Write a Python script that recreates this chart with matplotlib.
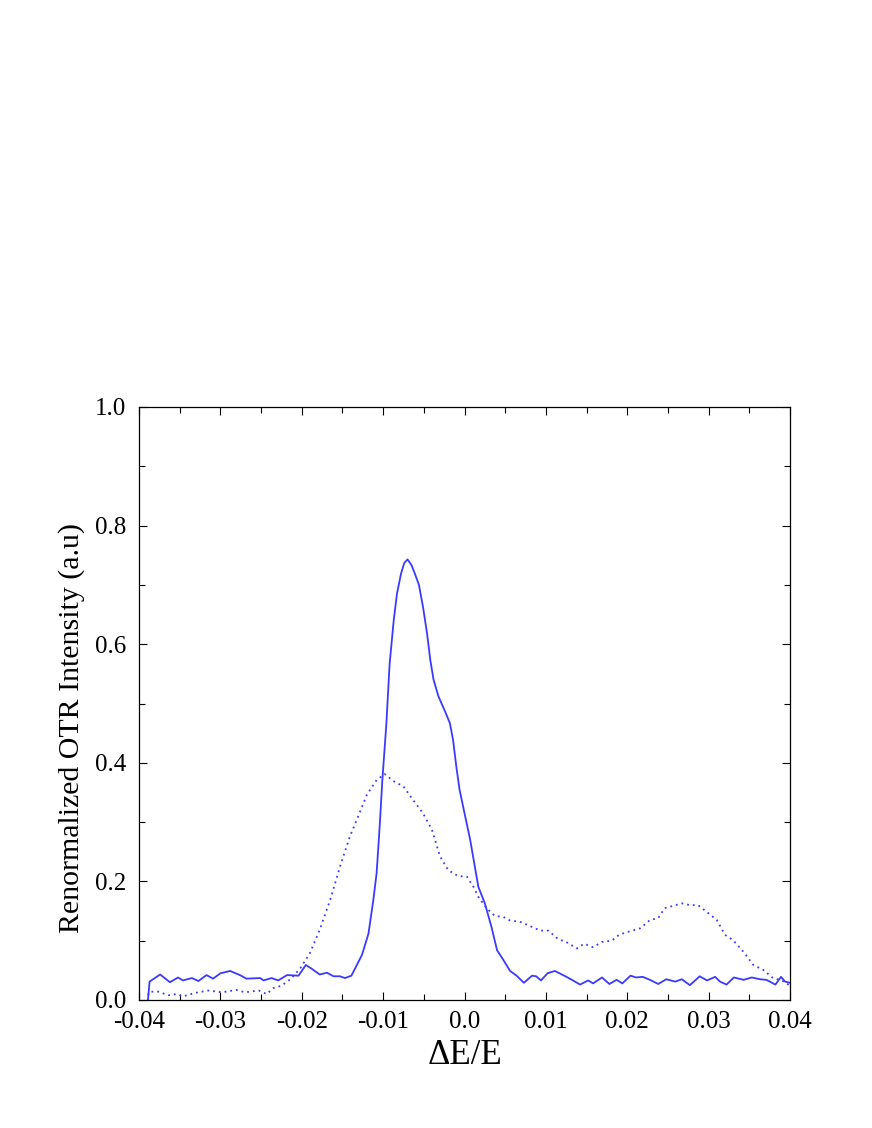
import matplotlib
matplotlib.use("Agg")
import matplotlib.pyplot as plt
from matplotlib.ticker import MultipleLocator

# solid curve
solid_x = [-0.0389, -0.0387, -0.0374, -0.0362, -0.0352, -0.0346, -0.0335, -0.0327, -0.0317,
           -0.0309, -0.0300, -0.0288, -0.0276, -0.0268, -0.0251, -0.0247, -0.0237, -0.0229,
           -0.0218, -0.0204, -0.0195, -0.0188, -0.0178, -0.0169, -0.0161, -0.0153, -0.0147,
           -0.0139, -0.0126, -0.0118, -0.0112, -0.0108, -0.0104, -0.0101, -0.0096, -0.0092,
           -0.0087, -0.0083, -0.0078, -0.0074, -0.0070, -0.0065, -0.0061, -0.0056, -0.0051,
           -0.0046, -0.0042, -0.0038, -0.0032, -0.0024, -0.0018, -0.0014, -0.0010, -0.0006,
           0.0007, 0.0017, 0.0025, 0.0033, 0.0040, 0.0048, 0.0056, 0.0064, 0.0073, 0.0083,
           0.0088, 0.0094, 0.0102, 0.0111, 0.0124, 0.0132, 0.0142, 0.0152, 0.0158, 0.0169,
           0.0178, 0.0187, 0.0194, 0.0204, 0.0211, 0.0219, 0.0228, 0.0238, 0.0248, 0.0259,
           0.0267, 0.0277, 0.0289, 0.0298, 0.0308, 0.0314, 0.0322, 0.0331, 0.0343, 0.0353,
           0.0363, 0.0371, 0.0382, 0.0389, 0.0394, 0.0400]
solid_y = [0.000, 0.031, 0.043, 0.030, 0.038, 0.033, 0.037, 0.032, 0.042,
           0.036, 0.045, 0.049, 0.042, 0.036, 0.037, 0.033, 0.037, 0.033,
           0.042, 0.041, 0.059, 0.053, 0.043, 0.046, 0.040, 0.040, 0.037,
           0.041, 0.076, 0.112, 0.169, 0.214, 0.298, 0.370, 0.466, 0.567,
           0.640, 0.685, 0.719, 0.737, 0.743, 0.733, 0.719, 0.700, 0.663,
           0.618, 0.573, 0.540, 0.512, 0.487, 0.467, 0.438, 0.393, 0.354,
           0.270, 0.191, 0.163, 0.124, 0.084, 0.067, 0.049, 0.041, 0.029, 0.041,
           0.040, 0.033, 0.045, 0.049, 0.040, 0.034, 0.026, 0.033, 0.028, 0.038,
           0.027, 0.034, 0.028, 0.041, 0.038, 0.039, 0.034, 0.027, 0.035, 0.031,
           0.035, 0.025, 0.040, 0.033, 0.039, 0.031, 0.026, 0.038, 0.034, 0.038,
           0.035, 0.034, 0.026, 0.039, 0.031, 0.029]

# dotted curve
dot_x = [-0.0389, -0.0387, -0.0376, -0.0364, -0.0354, -0.0346, -0.0331, -0.0315, -0.0298,
         -0.0280, -0.0270, -0.0253, -0.0243, -0.0235, -0.0225, -0.0214, -0.0202, -0.0190,
         -0.0178, -0.0165, -0.0153, -0.0141, -0.0130, -0.0120, -0.0108, -0.0098, -0.0087,
         -0.0075, -0.0063, -0.0051, -0.0040, -0.0030, -0.0020, -0.0008, 0.0003, 0.0011,
         0.0017, 0.0027, 0.0037, 0.0048, 0.0056, 0.0068, 0.0080, 0.0093, 0.0103, 0.0115,
         0.0126, 0.0138, 0.0147, 0.0158, 0.0169, 0.0181, 0.0190, 0.0201, 0.0216, 0.0228,
         0.0238, 0.0246, 0.0257, 0.0267, 0.0277, 0.0287, 0.0300, 0.0310, 0.0320, 0.0330,
         0.0343, 0.0355, 0.0367, 0.0379, 0.0390, 0.0400]
dot_y = [0.008, 0.014, 0.014, 0.008, 0.010, 0.006, 0.012, 0.016, 0.013,
         0.017, 0.013, 0.016, 0.010, 0.020, 0.024, 0.035, 0.053, 0.079,
         0.118, 0.169, 0.225, 0.275, 0.312, 0.346, 0.371, 0.381, 0.369,
         0.360, 0.337, 0.315, 0.287, 0.242, 0.219, 0.209, 0.208, 0.191,
         0.174, 0.155, 0.142, 0.140, 0.134, 0.132, 0.125, 0.117, 0.117, 0.103,
         0.097, 0.087, 0.095, 0.089, 0.098, 0.100, 0.110, 0.115, 0.121, 0.135,
         0.138, 0.155, 0.159, 0.163, 0.160, 0.160, 0.146, 0.135, 0.110, 0.101,
         0.081, 0.059, 0.051, 0.037, 0.033, 0.024]

x_ticks = [-0.04, -0.03, -0.02, -0.01, 0.0, 0.01, 0.02, 0.03, 0.04]
x_ticklabels = ["-0.04", "-0.03", "-0.02", "-0.01", "0.0", "0.01", "0.02", "0.03", "0.04"]

plt.rcParams["font.family"] = ["Liberation Serif", "DejaVu Serif"]

fig = plt.figure(figsize=(8.72, 11.28), dpi=100)
ax = fig.add_axes([139 / 872, 1 - 1000 / 1128, 651 / 872, 593 / 1128])

blue = "#3a3aff"
ax.plot(solid_x, solid_y, color=blue, lw=1.3)
ax.plot(dot_x, dot_y, color=blue, lw=1.3, ls=(0, (1, 2.2)))

ax.set_xlim(-0.04, 0.04)
ax.set_ylim(0, 1.0)
ax.set_xticks(x_ticks)
ax.set_xticklabels(x_ticklabels)
ax.xaxis.set_minor_locator(MultipleLocator(0.005))
ax.yaxis.set_major_locator(MultipleLocator(0.2))
ax.yaxis.set_minor_locator(MultipleLocator(0.1))
ax.yaxis.set_major_formatter(plt.FuncFormatter(lambda v, p: f"{v:.1f}"))
ax.tick_params(which="both", direction="in", top=True, right=True, labelsize=18)
ax.tick_params(axis="x", pad=8)
ax.tick_params(axis="y", pad=9)
ax.tick_params(which="major", length=6, width=0.8)
ax.tick_params(which="minor", length=4, width=0.8)
for s in ax.spines.values():
    s.set_linewidth(0.9)

ax.set_xlabel("ΔE/E", fontsize=25, labelpad=4)
ylab = ax.set_ylabel("Renormalized OTR Intensity (a.u)", fontsize=21.5)
ylab.set_va("center")
ax.yaxis.set_label_coords(-0.104, 0.459)

fig.savefig("out.png", dpi=100)
